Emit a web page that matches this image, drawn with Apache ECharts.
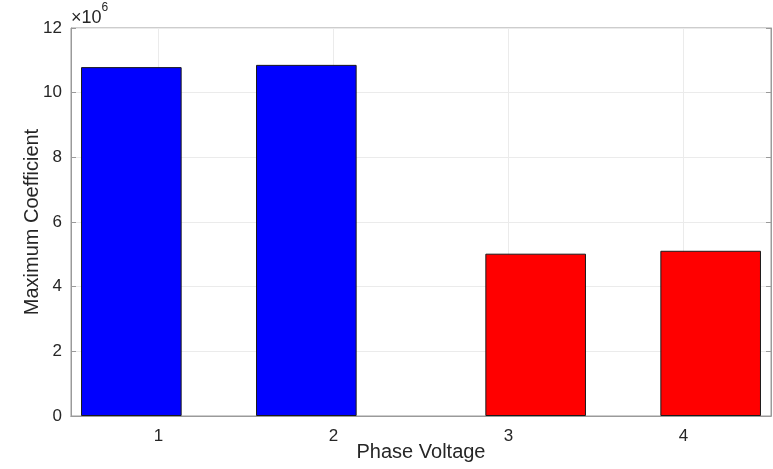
<!DOCTYPE html>
<html>
<head>
<meta charset="utf-8">
<script src="https://cdn.jsdelivr.net/npm/echarts@6/dist/echarts.min.js"></script>
<style>
  html, body { margin: 0; padding: 0; background: #fff; }
  #chart { width: 773px; height: 469px; }
</style>
</head>
<body>
<div id="chart"></div>
<script>
// data
const categories = ['1', '2', '3', '4'];
const blueValues = [10.79e6, 10.86e6, null, null];
const redValues = [null, null, 5.02e6, 5.11e6];

const axisCol = '#9a9a9a';
const textCol = '#262626';
const gridCol = '#ebebeb';
const font = 'Liberation Sans, Arial, sans-serif';

let chart = echarts.init(document.getElementById('chart'));
let option = {
  animation: false,
  textStyle: { fontFamily: font },
  grid: {
    left: 71, right: 2, top: 28, bottom: 53,
    outerBoundsMode: 'none', containLabel: false,
    show: true, borderColor: axisCol, borderWidth: 1
  },
  graphic: [{
    type: 'text',
    left: 71,
    top: 2,
    style: {
      text: '{a|×10}{b|6}',
      rich: {
        a: { fontSize: 18, fill: textCol, fontFamily: font, padding: [7, 0, 0, 0] },
        b: { fontSize: 12, fill: textCol, fontFamily: font, verticalAlign: 'top' }
      }
    }
  }],
  xAxis: [{
    type: 'category',
    data: categories,
    name: 'Phase Voltage',
    nameLocation: 'middle',
    nameGap: 26,
    nameMoveOverlap: false,
    nameTextStyle: { fontSize: 20, color: textCol },
    axisLine: { lineStyle: { color: axisCol } },
    axisTick: { inside: true, alignWithLabel: true, length: 5, lineStyle: { color: axisCol } },
    axisLabel: { fontSize: 17, color: textCol, margin: 12 },
    splitLine: { show: true, alignWithLabel: true, lineStyle: { color: gridCol } }
  }, {
    type: 'category',
    data: categories,
    position: 'top',
    axisLine: { lineStyle: { color: axisCol } },
    axisTick: { inside: true, alignWithLabel: true, length: 5, lineStyle: { color: axisCol } },
    axisLabel: { show: false }
  }],
  yAxis: [{
    type: 'value',
    min: 0,
    max: 12e6,
    interval: 2e6,
    name: 'Maximum Coefficient',
    nameLocation: 'middle',
    nameGap: 29,
    nameMoveOverlap: false,
    nameTextStyle: { fontSize: 20, color: textCol },
    axisLine: { show: true, lineStyle: { color: axisCol } },
    axisTick: { show: true, inside: true, length: 5, lineStyle: { color: axisCol } },
    axisLabel: { fontSize: 17, color: textCol, margin: 9, formatter: v => String(v / 1e6) },
    splitLine: { show: true, lineStyle: { color: gridCol } }
  }, {
    type: 'value',
    min: 0,
    max: 12e6,
    interval: 2e6,
    position: 'right',
    axisLine: { show: true, lineStyle: { color: axisCol } },
    axisTick: { show: true, inside: true, length: 5, lineStyle: { color: axisCol } },
    axisLabel: { show: false },
    splitLine: { show: false }
  }],
  series: [{
    type: 'bar',
    data: blueValues,
    barWidth: '57.5%',
    barGap: '-46%',
    itemStyle: { color: '#0000ff', borderColor: '#1a1a1a', borderWidth: 1 }
  }, {
    type: 'bar',
    data: redValues,
    barWidth: '57.5%',
    barGap: '-46%',
    itemStyle: { color: '#ff0000', borderColor: '#1a1a1a', borderWidth: 1 }
  }]
};
chart.setOption(option);
</script>
</body>
</html>
